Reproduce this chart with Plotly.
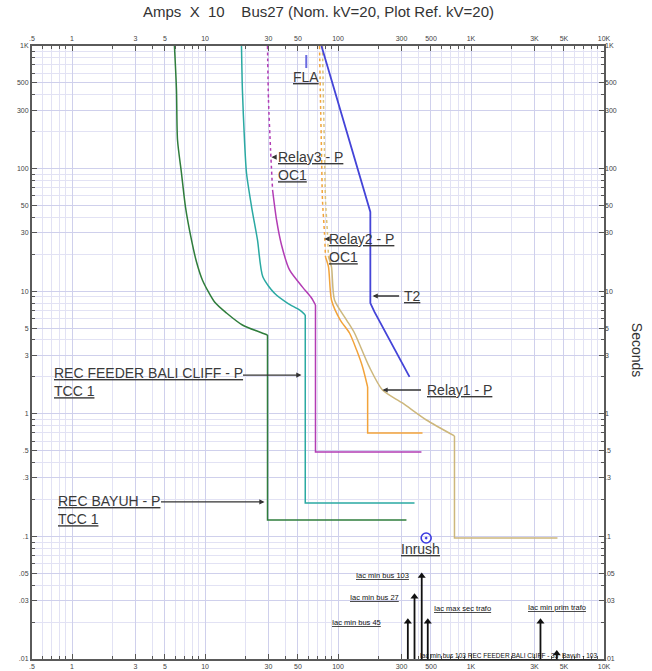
import numpy as np
import plotly.graph_objects as go

# ---------------- data (Amps x 10 vs seconds) ----------------
green_x = [5.89, 6.10, 6.21, 6.65, 7.13, 7.91, 8.63, 9.57, 11.8, 14.5, 19.1, 25.7, 29.5, 29.5, 327]
green_y = [1000, 438, 171, 92, 48.6, 26.2, 17.3, 12.3, 8.16, 6.64, 5.30, 4.65, 4.39, 0.136, 0.136]

cyan_x = [18.8, 19.1, 19.8, 20.5, 22.4, 24.8, 27.2, 33.3, 41.9, 51.3, 56.7, 56.7, 376]
cyan_y = [1000, 438, 171, 92, 48.6, 26.2, 13.1, 9.61, 7.96, 7.03, 6.4, 0.187, 0.187]

relay3_dot_x = [29.5, 30.0, 31.1, 32.2]
relay3_dot_y = [1000, 363, 142, 66.9]
relay3_x = [32.2, 34.5, 37.6, 43.2, 54.1, 63.2, 67.7, 67.7, 424]
relay3_y = [66.9, 38.1, 23.8, 14.9, 10.8, 8.8, 7.72, 0.488, 0.488]

relay2_dot_x = [72.6, 73.8, 75.1, 76.4, 79.1, 80.5]
relay2_dot_y = [1000, 363, 142, 55.5, 29.8, 19.0]
relay2_x = [80.5, 84.8, 89.3, 104, 122, 138, 153, 167, 167, 432]
relay2_y = [19.0, 15.8, 8.48, 5.82, 4.56, 3.31, 2.41, 1.654, 0.697, 0.697]

relay1_dot_x = [76.4, 77.7, 79.1, 80.5, 83.3, 84.8]
relay1_dot_y = [1000, 363, 142, 55.5, 29.8, 19.0]
relay1_x = [84.8, 89.3, 94.1, 116, 133, 172, 216, 305, 462, 751, 751, 4468]
relay1_y = [19.0, 15.8, 8.48, 5.82, 4.56, 2.41, 1.563, 1.225, 0.89, 0.66, 0.097, 0.097]

t2_x = [75.1, 86.3, 102.6, 122, 145, 169, 175, 175, 188, 345]
t2_y = [1000, 602, 318, 171, 92, 50.5, 44.3, 8.0, 6.77, 2.0]

fla_x = [57.7, 57.7]
fla_y = [844, 661]

inrush_x = [460]
inrush_y = [0.097]

fault_x = [335, 376, 426, 473, 3329, 4415]
fault_top = [0.0201, 0.0322, 0.0475, 0.0201, 0.0201, 0.0111]
fault_base = 0.01

fault_names = ["Iac min bus 45", "Iac min bus 27", "Iac min bus 103", "Iac max sec trafo", "Iac min prim trafo"]
fault_lab_x = [216, 300, 351, 513, 2612]
fault_lab_y = [0.020, 0.0315, 0.0484, 0.0256, 0.0261]
fault_lab_anchor = ["right", "right", "right", "left", "left"]

dev_names = ["REC FEEDER BALI CLIFF - P|TCC 1", "REC BAYUH - P|TCC 1", "Relay3 - P|OC1",
             "Relay2 - P|OC1", "T2", "Relay1 - P"]
dev_lab_x = [0.701, 0.764, 33.9, 83.3, 305, 447]
dev_lab_y = [1.82, 0.164, 106, 22.7, 9.14, 1.563]
dev_tip_x = [53.1, 28.0, 31.6, 79.1, 182, 216]
dev_tip_y = [2.07, 0.191, 124, 26.7, 9.14, 1.563]
dev_arrow_len = [-60, -105, 5, 4, 28, 40]   # negative: tail on the left

x_tickvals = [0.5, 1, 3, 5, 10, 30, 50, 100, 300, 500, 1000, 3000, 5000, 10000]
x_ticktext = [".5", "1", "3", "5", "10", "30", "50", "100", "300", "500", "1K", "3K", "5K", "10K"]
y_tickvals = [0.01, 0.03, 0.05, 0.1, 0.3, 0.5, 1, 3, 5, 10, 30, 50, 100, 300, 500, 1000]
y_ticktext = [".01", ".03", ".05", ".1", ".3", ".5", "1", "3", "5", "10", "30", "50", "100", "300", "500", "1K"]

title_text = "Amps  X  10    Bus27 (Nom. kV=20, Plot Ref. kV=20)"
y_title = "Seconds"

# ---------------- figure ----------------
FONT = "Liberation Sans, Arial, sans-serif"
TXT = "#3a3a3a"
fig = go.Figure()


def add_line(x, y, color, dash="solid", width=1.5, shape="linear"):
    fig.add_trace(go.Scatter(x=x, y=y, mode="lines",
                             line=dict(color=color, width=width, dash=dash, shape=shape, smoothing=0.7),
                             hoverinfo="skip", showlegend=False))


def add_curve(x, y, corner, color, width=1.5):
    # smooth inverse-time part up to the corner, straight segments after it
    add_line(x[:corner + 1], y[:corner + 1], color, width=width, shape="spline")
    add_line(x[corner:], y[corner:], color, width=width)


add_curve(green_x, green_y, 12, "#2f7d3c")
add_curve(cyan_x, cyan_y, 10, "#2aa9a2")
add_line(relay3_dot_x, relay3_dot_y, "#b23cb4", "dot", shape="spline")
add_curve(relay3_x, relay3_y, 6, "#b23cb4")
add_line(relay1_dot_x, relay1_dot_y, "#d9c27a", "dot", shape="spline")
add_curve(relay1_x, relay1_y, 9, "#cdb77c")
add_line(relay2_dot_x, relay2_dot_y, "#f2a33a", "dot", shape="spline")
add_curve(relay2_x, relay2_y, 7, "#f2a33a")
add_line(t2_x, t2_y, "#4444d8", width=1.8)
add_line(fla_x, fla_y, "#6a6ae0", width=2)

fig.add_trace(go.Scatter(x=inrush_x, y=inrush_y, mode="markers",
                         marker=dict(symbol="circle-open-dot", size=10, color="#3a3ae0",
                                     line=dict(width=1.6, color="#3a3ae0")),
                         hoverinfo="skip", showlegend=False))

for fx, ft in zip(fault_x, fault_top):
    add_line([fx, fx], [fault_base, ft], "#111111", width=1.8)
fig.add_trace(go.Scatter(x=fault_x, y=fault_top, mode="markers",
                         marker=dict(symbol="triangle-up", size=7, color="#111111"),
                         hoverinfo="skip", showlegend=False))

# invisible trace for mirrored axes
fig.add_trace(go.Scatter(x=[1], y=[1], xaxis="x2", yaxis="y2", mode="markers",
                         marker=dict(opacity=0), hoverinfo="skip", showlegend=False))

ann = []
for name, lx, ly, tx, ty, L in zip(dev_names, dev_lab_x, dev_lab_y, dev_tip_x, dev_tip_y, dev_arrow_len):
    parts = name.split("|")
    txt = "<br>".join("<u>%s</u>" % p for p in parts)
    ann.append(dict(x=np.log10(lx), y=np.log10(ly), xref="x", yref="y", text=txt, showarrow=False,
                    xanchor="left", yanchor="middle", align="left",
                    font=dict(family=FONT, size=14, color=TXT)))
    ann.append(dict(x=np.log10(tx), y=np.log10(ty), xref="x", yref="y", text="", showarrow=True,
                    ax=L, ay=0, arrowhead=2, arrowsize=0.8, arrowwidth=1.3, arrowcolor="#333333"))

for name, lx, ly, anc in zip(fault_names, fault_lab_x, fault_lab_y, fault_lab_anchor):
    ann.append(dict(x=np.log10(lx), y=np.log10(ly), xref="x", yref="y", text="<u>%s</u>" % name,
                    showarrow=False, xanchor=anc, yanchor="middle",
                    font=dict(family=FONT, size=7.5, color="#111111")))

ann.append(dict(x=np.log10(57.4), y=np.log10(558), xref="x", yref="y", text="<u>FLA</u>", showarrow=False,
                xanchor="center", yanchor="middle", font=dict(family=FONT, size=14, color=TXT)))
ann.append(dict(x=np.log10(417), y=np.log10(0.0789), xref="x", yref="y", text="<u>Inrush</u>", showarrow=False,
                xanchor="center", yanchor="middle", font=dict(family=FONT, size=14, color=TXT)))
ann.append(dict(x=np.log10(396), y=np.log10(0.0106), xref="x", yref="y",
                text="<u>Iac min bus 103 REC FEEDER BALI CLIFF - 33</u>", showarrow=False,
                xanchor="left", yanchor="middle", font=dict(family=FONT, size=6.5, color="#111111")))
ann.append(dict(x=np.log10(4700), y=np.log10(0.0106), xref="x", yref="y",
                text="<u>Bayuh - 103</u>", showarrow=False,
                xanchor="left", yanchor="middle", font=dict(family=FONT, size=6.5, color="#111111")))

ann.append(dict(x=0.5, y=1.0555, xref="paper", yref="paper", text=title_text, showarrow=False,
                xanchor="center", yanchor="middle", font=dict(family=FONT, size=15, color="#333333")))
ann.append(dict(x=1.058, y=0.504, xref="paper", yref="paper", text=y_title, showarrow=False,
                textangle=90, xanchor="center", yanchor="middle",
                font=dict(family=FONT, size=14, color="#333333")))

x_minor = [m * 10.0 ** d for d in range(-1, 5) for m in range(1, 10) if 0.5 <= m * 10.0 ** d <= 10000]
y_minor = [m * 10.0 ** d for d in range(-2, 4) for m in range(1, 10) if 0.01 <= m * 10.0 ** d <= 1000]

xr = [np.log10(0.5), np.log10(10000)]
yr = [np.log10(0.01), np.log10(1000)]
tickfont = dict(family=FONT, size=7, color="#444444")

common = dict(type="log", tickmode="array", zeroline=False, tickfont=tickfont, automargin=False)

fig.update_layout(
    width=652, height=671, autosize=False,
    margin=dict(l=32, r=48, t=46, b=12, pad=0, autoexpand=False),
    paper_bgcolor="white", plot_bgcolor="white",
    showlegend=False,
    xaxis=dict(range=xr, tickvals=x_tickvals, ticktext=x_ticktext, showgrid=True,
               gridcolor="#cfd0ec", gridwidth=1, ticks="inside", ticklen=5, tickcolor="#555555",
               showline=True, linecolor="#5a5a5a", linewidth=2, mirror="ticks",
               minor=dict(tickvals=x_minor, showgrid=True, gridcolor="#e2e2f4", ticks="inside",
                          ticklen=3, tickcolor="#555555"),
               **common),
    yaxis=dict(range=yr, tickvals=y_tickvals, ticktext=y_ticktext, showgrid=True,
               gridcolor="#cfd0ec", gridwidth=1, ticks="inside", ticklen=5, tickcolor="#555555",
               showline=True, linecolor="#5a5a5a", linewidth=2, mirror="ticks",
               minor=dict(tickvals=y_minor, showgrid=True, gridcolor="#e2e2f4", ticks="inside",
                          ticklen=3, tickcolor="#555555"),
               **common),
    xaxis2=dict(range=xr, tickvals=x_tickvals, ticktext=x_ticktext, overlaying="x", side="top",
                anchor="y", showgrid=False, ticks="", showline=False, ticklabelstandoff=3, **common),
    yaxis2=dict(range=yr, tickvals=y_tickvals, ticktext=y_ticktext, overlaying="y", side="right",
                anchor="x", showgrid=False, ticks="", showline=False, **common),
    annotations=ann,
)

fig.write_html("out.html", config={"displayModeBar": False, "staticPlot": True},
               post_script="document.body.style.margin='0px';document.body.style.overflow='hidden';")
